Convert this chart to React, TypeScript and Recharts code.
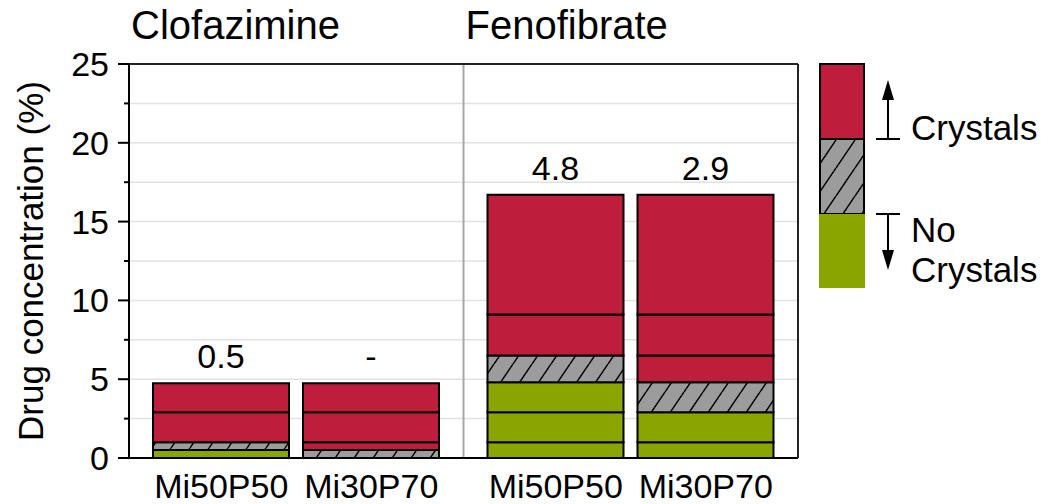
import React from "react";
import {
  BarChart,
  Bar,
  XAxis,
  YAxis,
  CartesianGrid,
  Cell,
  LabelList,
  Customized,
} from "recharts";

// ---------- data ----------
const groups = ["Clofazimine", "Fenofibrate"];
const formulations = ["Mi50P50", "Mi30P70"];
// tested drug loadings (%), cumulative levels of each stacked bar
const clofazimineLevels = [0.5, 1.0, 2.9, 4.75];
const fenofibrateLevels = [1.0, 2.9, 4.8, 6.5, 9.1, 16.7];
// highest loading without crystals, per formulation (null = none)
const clofazimineNoCrystal: (number | null)[] = [0.5, null];
const fenofibrateNoCrystal: (number | null)[] = [4.8, 2.9];
const yTicks = [0, 2.5, 5, 7.5, 10, 12.5, 15, 17.5, 20, 22.5, 25];
const yMajorTicks = [0, 5, 10, 15, 20, 25];
const yLabel = "Drug concentration (%)";
const legendCrystals = "Crystals";
const legendNoCrystals = ["No", "Crystals"];

// ---------- styling ----------
const RED = "#BE1E3C";
const GREEN = "#8AA400";
const GRAY = "#9C9C9C";
const FONT = "'Liberation Sans', Arial, Helvetica, sans-serif";
const BAR_SIZE = 136;
const BAR_GAP = 14;
const SEGMENTS = 6;
const stackKeys = ["a", "b"];
const levelsByGroup = [clofazimineLevels, fenofibrateLevels];
const noCrystalByGroup = [clofazimineNoCrystal, fenofibrateNoCrystal];

const same = (p: number, q: number) => Math.abs(p - q) < 1e-9;

function segState(levels: number[], i: number, nc: number | null) {
  const limit = nc == null ? 0 : nc;
  const prev = i === 0 ? 0 : levels[i - 1];
  if (levels[i] <= limit + 1e-9) return "none";
  if (same(prev, limit)) return "onset";
  return "crystal";
}

const rows = groups.map((g, gi) => {
  const row: any = { group: g };
  const levels = levelsByGroup[gi];
  formulations.forEach((_f, fi) => {
    const k = stackKeys[fi];
    const nc = noCrystalByGroup[gi][fi];
    const label = nc == null ? "-" : nc.toFixed(1);
    for (let i = 0; i < SEGMENTS; i++) {
      const has = i < levels.length;
      row[`${k}${i}`] = has ? levels[i] - (i ? levels[i - 1] : 0) : 0;
      row[`${k}${i}State`] = has ? segState(levels, i, nc) : "crystal";
      row[`${k}${i}Label`] = i === levels.length - 1 ? label : "";
    }
  });
  return row;
});

const fillFor = (state: string) =>
  state === "none" ? GREEN : state === "onset" ? "url(#hatch)" : RED;

// ---------- ticks ----------
const YTick = (props: any) => {
  const { x, y, payload } = props;
  const major = yMajorTicks.includes(payload.value);
  return (
    <g>
      <line x1={x - (major ? 11 : 5)} x2={x} y1={y} y2={y} stroke="#000" strokeWidth={2} />
      {major && (
        <text x={x - 20} y={y} dy={12} textAnchor="end" fontSize={34} fill="#000" fontFamily={FONT}>
          {payload.value}
        </text>
      )}
    </g>
  );
};

const BottomTick = (props: any) => {
  const { x, y } = props;
  const d = (BAR_SIZE + BAR_GAP) / 2;
  return (
    <g>
      {formulations.map((f, i) => (
        <text key={f} x={x + (i === 0 ? -d : d)} y={y} dy={40} textAnchor="middle" fontSize={34} fill="#000" fontFamily={FONT}>
          {f}
        </text>
      ))}
    </g>
  );
};

const TopTick = (props: any) => {
  const { x, y, payload } = props;
  const half = payload && payload.offset ? payload.offset : 167;
  return (
    <text x={x - half + 2} y={y} dy={-25} textAnchor="start" fontSize={40} fill="#000" fontFamily={FONT}>
      {payload.value}
    </text>
  );
};

const YLabel = (props: any) => {
  const vb = props.viewBox || { x: 0, y: 64, width: 129, height: 394 };
  const cy = vb.y + vb.height / 2;
  const cx = vb.x + 43;
  return (
    <text x={cx} y={cy} transform={`rotate(-90 ${cx} ${cy})`} textAnchor="middle" fontSize={35} fill="#000" fontFamily={FONT}>
      {yLabel}
    </text>
  );
};

// ---------- legend ----------
const LegendGraphic = () => {
  const bx = 820;
  const bw = 44;
  const h = 75;
  const top = 64;
  const ax = 888;
  return (
    <g fontFamily={FONT}>
      <rect x={bx} y={top} width={bw} height={h} fill={RED} stroke="#000" strokeWidth={2} />
      <rect x={bx} y={top + h} width={bw} height={h} fill="url(#hatch)" stroke="#000" strokeWidth={2} />
      <rect x={bx - 1} y={top + 2 * h} width={bw + 2} height={h - 1} fill={GREEN} />
      {/* up arrow */}
      <line x1={876} x2={900} y1={top + h} y2={top + h} stroke="#000" strokeWidth={2} />
      <line x1={ax} x2={ax} y1={top + h} y2={98} stroke="#000" strokeWidth={2} />
      <polygon points={`${ax - 6},100 ${ax + 6},100 ${ax},80`} fill="#000" />
      <text x={911} y={140} fontSize={35} fill="#000">{legendCrystals}</text>
      {/* down arrow */}
      <line x1={876} x2={900} y1={top + 2 * h} y2={top + 2 * h} stroke="#000" strokeWidth={2} />
      <line x1={ax} x2={ax} y1={top + 2 * h} y2={252} stroke="#000" strokeWidth={2} />
      <polygon points={`${ax - 6},250 ${ax + 6},250 ${ax},270`} fill="#000" />
      <text x={911} y={242} fontSize={35} fill="#000">{legendNoCrystals[0]}</text>
      <text x={911} y={282} fontSize={35} fill="#000">{legendNoCrystals[1]}</text>
    </g>
  );
};

export default function App() {
  const bars: any[] = [];
  stackKeys.forEach((k) => {
    for (let i = 0; i < SEGMENTS; i++) {
      const key = `${k}${i}`;
      bars.push(
        <Bar
          key={key}
          dataKey={key}
          stackId={k}
          stroke="#000"
          strokeWidth={2}
          isAnimationActive={false}
        >
          {rows.map((r, ri) => (
            <Cell key={ri} fill={fillFor(r[`${key}State`])} stroke="#000" strokeWidth={2} />
          ))}
          <LabelList
            dataKey={`${key}Label`}
            position="top"
            offset={15}
            fontSize={34}
            fill="#000"
            fontFamily={FONT}
          />
        </Bar>
      );
    }
  });

  return (
    <div style={{ position: "absolute", left: 0, top: 0, background: "#fff" }}>
      <svg width={0} height={0} style={{ position: "absolute" }}>
        <defs>
          <pattern id="hatch" patternUnits="userSpaceOnUse" width={19} height={28}>
            <rect width={19} height={28} fill={GRAY} />
            <path d="M0,28 L19,0 M-19,28 L0,0 M19,28 L38,0" stroke="#000" strokeWidth={1.5} />
          </pattern>
        </defs>
      </svg>
      <BarChart
        width={1041}
        height={504}
        data={rows}
        margin={{ top: 0, right: 0, bottom: 0, left: 0 }}
        barSize={BAR_SIZE}
        barGap={BAR_GAP}
        style={{ fontFamily: FONT }}
      >
        <CartesianGrid vertical={false} stroke="#e2e2e2" strokeWidth={1.5} />
        <CartesianGrid yAxisId="right" vertical={false} stroke="#a8a8a8" strokeWidth={1.5} />
        <CartesianGrid
          horizontal={false}
          stroke="#a8a8a8"
          strokeWidth={2}
          verticalCoordinatesGenerator={(p: any) => [p.offset.left + p.offset.width / 2]}
        />
        {bars}
        <XAxis
          dataKey="group"
          height={46}
          tickSize={0}
          tickMargin={0}
          tickLine={false}
          interval={0}
          axisLine={{ stroke: "#000", strokeWidth: 2 }}
          tick={<BottomTick />}
        />
        <XAxis
          xAxisId="top"
          orientation="top"
          dataKey="group"
          height={64}
          tickSize={0}
          tickMargin={0}
          tickLine={false}
          interval={0}
          axisLine={{ stroke: "#222", strokeWidth: 2 }}
          tick={<TopTick />}
        />
        <YAxis
          width={129}
          domain={[0, 25]}
          ticks={yTicks}
          interval={0}
          tickSize={0}
          tickMargin={0}
          tickLine={false}
          axisLine={{ stroke: "#000", strokeWidth: 2 }}
          tick={<YTick />}
          label={<YLabel />}
        />
        <YAxis
          yAxisId="right"
          orientation="right"
          width={243}
          domain={[0, 25]}
          ticks={yMajorTicks}
          interval={0}
          tick={false}
          tickLine={false}
          axisLine={{ stroke: "#222", strokeWidth: 2 }}
        />
        <Customized component={LegendGraphic} />
      </BarChart>
    </div>
  );
}
